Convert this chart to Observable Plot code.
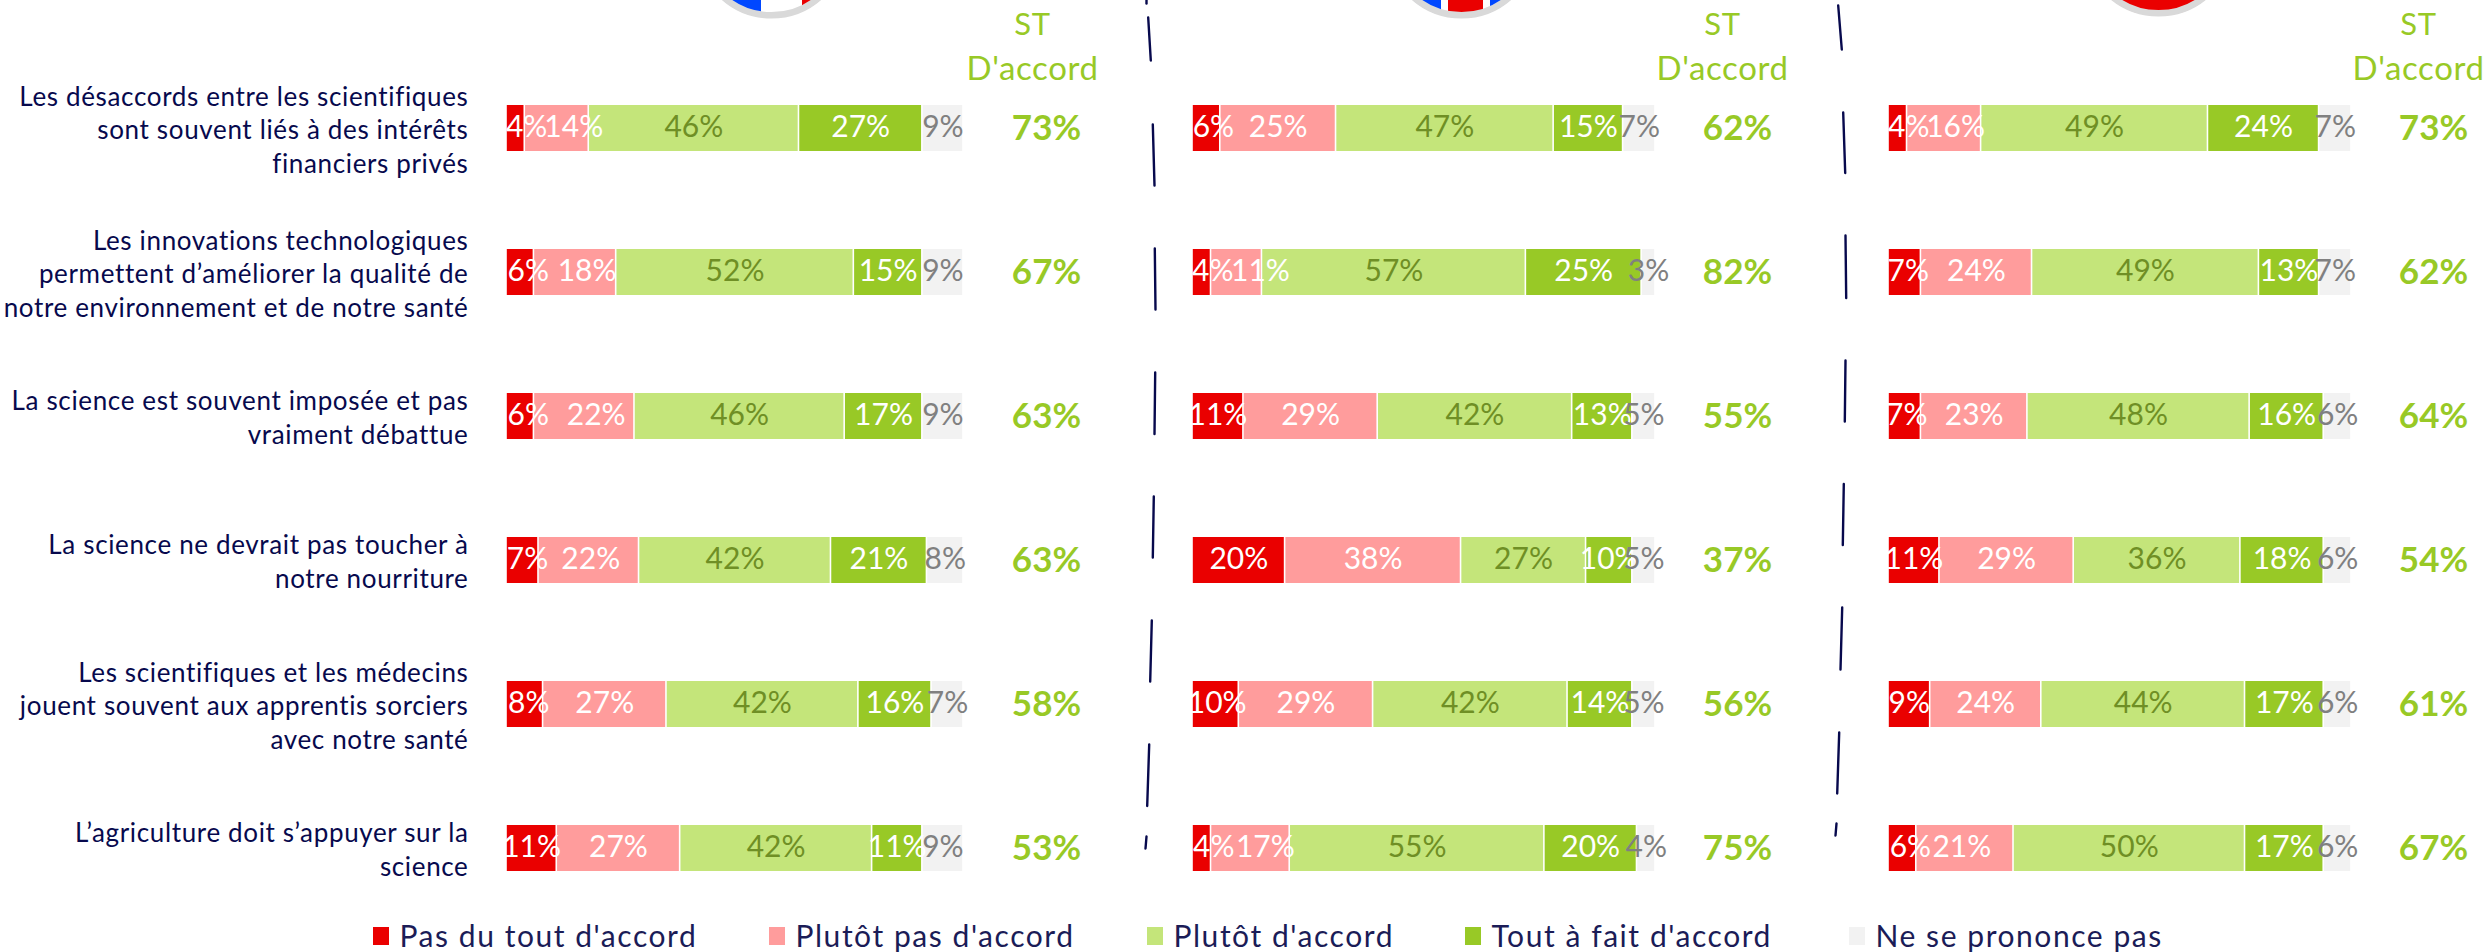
<!DOCTYPE html>
<html>
<head>
<meta charset="utf-8">
<script src="https://cdn.jsdelivr.net/npm/d3@7"></script>
<script src="https://cdn.jsdelivr.net/npm/@observablehq/plot@0.6"></script>
<style>
html,body{margin:0;padding:0;background:#fff;width:2489px;height:952px;overflow:hidden}
#root{position:relative;width:2489px;height:952px}
#root svg{position:absolute;left:0;top:0;background:transparent;overflow:hidden}
.qlabel text{letter-spacing:.65px}
.legend-label text{letter-spacing:1.55px}
.head text{letter-spacing:.6px}
</style>
</head>
<body>
<div id="root"></div>
<script>
const questions = [
  "Les désaccords entre les scientifiques\nsont souvent liés à des intérêts\nfinanciers privés",
  "Les innovations technologiques\npermettent d’améliorer la qualité de\nnotre environnement et de notre santé",
  "La science est souvent imposée et pas\nvraiment débattue",
  "La science ne devrait pas toucher à\nnotre nourriture",
  "Les scientifiques et les médecins\njouent souvent aux apprentis sorciers\navec notre santé",
  "L’agriculture doit s’appuyer sur la\nscience"
];
const categories = ["Pas du tout d'accord","Plutôt pas d'accord","Plutôt d'accord","Tout à fait d'accord","Ne se prononce pas"];
const colors = ["#ea0000","#ff9c9c","#c4e57a","#98c926","#f2f2f2"];
const labelColors = ["#ffffff","#ffffff","#6f8f25","#ffffff","#808080"];
const accent = "#98c926", navy = "#07094d";

// Values: one row per question, one column per answer
const panelA = [[4,14,46,27,9],[6,18,52,15,9],[6,22,46,17,9],[7,22,42,21,8],[8,27,42,16,7],[11,27,42,11,9]];
const panelB = [[6,25,47,15,7],[4,11,57,25,3],[11,29,42,13,5],[20,38,27,10,5],[10,29,42,14,5],[4,17,55,20,4]];
const panelC = [[4,16,49,24,7],[7,24,49,13,7],[7,23,48,16,6],[11,29,36,18,6],[9,24,44,17,6],[6,21,50,17,6]];
const totalsA = [73,67,63,63,58,53];
const totalsB = [62,82,55,37,56,75];
const totalsC = [73,62,64,54,61,67];

// Horizontal shift in pixels of the labels of the first two segments, per row
const shiftA = [[11,17],[8,12],[8,12],[5,2],[4,0],[0,0]];
const shiftB = [[7,0],[11,24],[0,0],[0,0],[1.5,0],[12,15]];
const shiftC = [[11,11.5],[3.5,0],[2,0],[0,0],[0,0],[8,-3]];

// Pixel extents and label placement of each panel
const barRanges = [[506,963],[1192,1655],[1888,2351]];
const totalCentres = [1046,1737,2433];
const headCentres = [1032,1722,2418];
const questionRight = 468;

// Separator dashes: top x, top y, bottom x, bottom y
const sepX1 = [1146,1147.7,1152.3,1154.3,1154.7,1153.3,1151.3,1148.7,1146, 1837.7,1842.7,1845,1845,1843.3,1841.7,1838.7,1836];
const sepY1 = [0,17,124,248,372,496,620,744,836, 5,112,235,360,483.5,607,732,823];
const sepX2 = [1146,1150.3,1154,1155,1154,1152.3,1149.7,1146.7,1145, 1841.3,1844.7,1845.7,1844.3,1842.3,1840,1836.7,1835];
const sepY2 = [3,60,185,309,433.5,557,681,805.5,848, 49,172.5,297.5,421,544.5,669,793,835];

// Cropped round flags at the top edge
const flagX = [771,1461,2158];
const flagY = [-57.7,-57.7,-59.7];
const stripeX1 = [715,761,802, 1405,1441,1448,1483,1490, 2100];
const stripeX2 = [761,802,830, 1441,1448,1483,1490,1520, 2220];
const stripeFill = ["#0047ff","#ffffff","#ea0000", "#0047ff","#ffffff","#ea0000","#ffffff","#0047ff", "#ea0000"];

const legendX = [373,769,1147,1465,1849];

const questionFont = "Lato", figureFont = "Lato";

const root = document.getElementById("root");
const baseStyle = {background:"transparent", overflow:"hidden"};

// Overlay: flags, separators, legend
root.append(Plot.plot({
  width:2489, height:952, margin:0, style:baseStyle,
  x:{domain:[0,2489],range:[0,2489],axis:null},
  y:{domain:[0,952],range:[0,952],axis:null},
  marks:[
    Plot.rect(stripeFill,{x1:(d,i)=>stripeX1[i],x2:(d,i)=>stripeX2[i],y1:()=>0,y2:()=>18,fill:d=>d}),
    Plot.dot(flagX,{x:d=>d,y:(d,i)=>flagY[i],r:105,stroke:"#fff",strokeWidth:60,fill:"none"}),
    Plot.dot(flagX,{x:d=>d,y:(d,i)=>flagY[i],r:72.5,stroke:"#d9d9d9",strokeWidth:6.5,fill:"none"}),
    Plot.link(sepX1,{x1:d=>d,y1:(d,i)=>sepY1[i],x2:(d,i)=>sepX2[i],y2:(d,i)=>sepY2[i],stroke:navy,strokeWidth:2.4,strokeLinecap:"round"}),
    Plot.rect(categories,{x1:(d,i)=>legendX[i],x2:(d,i)=>legendX[i]+16,y1:()=>927,y2:()=>945,fill:(d,i)=>colors[i]}),
    Plot.text(categories,{x:(d,i)=>legendX[i]+26,y:()=>937,text:d=>d,textAnchor:"start",fontFamily:questionFont,fontSize:30,fill:"#1b1c57",className:"legend-label"})
  ]
}));

function panel(values, totals, shifts, idx){
  const [x0,x1] = barRanges[idx];
  const pct = x => (x-x0)/(x1-x0)*100;
  const segs = [];
  values.forEach((row,r)=>{
    let c=0;
    row.forEach((v,k)=>{
      const shift = k<2 ? shifts[r][k] : 0;
      segs.push({q:questions[r],k,v,start:c,end:c+v,shift:shift*100/(x1-x0)});
      c+=v;
    });
  });
  return Plot.plot({
    width:2489, height:952, margin:0, style:baseStyle,
    x:{domain:[0,100],range:[x0,x1],axis:null},
    y:{domain:questions,range:[105,871],paddingInner:98/144,paddingOuter:0,align:.5,axis:null},
    marks:[
      Plot.rect(segs,{x1:"start",x2:"end",y:"q",fill:d=>colors[d.k],insetLeft:.8,insetRight:.8}),
      Plot.text(segs,{x:d=>(d.start+d.end)/2+d.shift,y:"q",text:d=>d.v+"%",fill:d=>labelColors[d.k],fontFamily:figureFont,fontSize:30,dy:-1}),
      Plot.text(questions,{x:()=>pct(totalCentres[idx]),y:d=>d,text:(d,i)=>totals[i]+"%",fill:accent,fontFamily:figureFont,fontWeight:"bold",fontSize:35,dy:0}),
      Plot.text(["ST"],{x:()=>pct(headCentres[idx]),y:()=>questions[0],text:d=>d,dy:-103,fill:accent,fontFamily:figureFont,fontSize:31,className:"head"}),
      Plot.text(["D'accord"],{x:()=>pct(headCentres[idx]),y:()=>questions[0],text:d=>d,dy:-59,fill:accent,fontFamily:figureFont,fontSize:33,className:"head"}),
      idx===0 ? Plot.text(questions,{x:()=>pct(questionRight),y:d=>d,text:d=>d,textAnchor:"end",lineHeight:33.5/26,fontFamily:questionFont,fontSize:26,fill:navy,className:"qlabel"}) : null
    ]
  });
}
root.append(panel(panelA,totalsA,shiftA,0));
root.append(panel(panelB,totalsB,shiftB,1));
root.append(panel(panelC,totalsC,shiftC,2));
</script>
</body>
</html>
